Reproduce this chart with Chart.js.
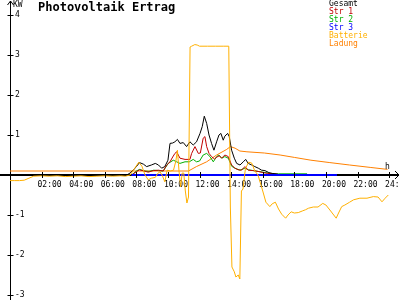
<!DOCTYPE html>
<html>
<head>
<meta charset="utf-8">
<title>Photovoltaik Ertrag</title>
<script src="https://cdn.jsdelivr.net/npm/chart.js@4"></script>
<style>
  html, body { margin: 0; padding: 0; background: #fff; }
</style>
</head>
<body>
<canvas id="myChart" width="400" height="300"></canvas>
<script>
// Werte: Zeit in Stunden, Leistung in kW
var gesamtStunden = [7.4, 7.6, 7.8, 8.0, 8.2, 8.45, 8.65, 8.95, 9.2, 9.4,
  9.6, 9.8, 10.0, 10.13, 10.3, 10.44, 10.6, 10.76, 10.97, 11.18,
  11.39, 11.6, 11.81, 12.03, 12.17, 12.3, 12.45, 12.6, 12.76, 12.91,
  13.08, 13.23, 13.35, 13.5, 13.6, 13.78, 13.88, 14.03, 14.2, 14.35,
  14.56, 14.77, 14.92, 15.08, 15.3, 15.5, 15.72, 15.93, 16.14, 16.39,
  16.6, 16.9, 17.2];
var gesamtKW = [0.0, 0.05, 0.12, 0.21, 0.31, 0.27, 0.21, 0.25, 0.29, 0.25,
  0.17, 0.21, 0.37, 0.79, 0.8, 0.83, 0.89, 0.79, 0.81, 0.71,
  0.83, 0.75, 0.83, 1.04, 1.21, 1.47, 1.29, 1.0, 0.79, 0.62,
  0.83, 1.0, 1.04, 0.87, 0.97, 1.04, 0.96, 0.62, 0.42, 0.29,
  0.25, 0.33, 0.39, 0.29, 0.25, 0.21, 0.17, 0.12, 0.11, 0.06,
  0.04, 0.02, 0.0];

var str1Stunden = [7.7, 8.0, 8.2, 8.5, 8.75, 9.07, 9.4, 9.7, 9.92, 10.13,
  10.3, 10.44, 10.55, 10.76, 11.08, 11.39, 11.5, 11.71, 11.92, 12.05,
  12.23, 12.34, 12.45, 12.6, 12.76, 12.95, 13.1, 13.25, 13.4, 13.6,
  13.82, 14.03, 14.24, 14.45, 14.66, 14.87, 15.08, 15.4, 15.7, 16.03,
  16.3, 16.6, 16.9, 17.1];
var str1KW = [0.0, 0.08, 0.13, 0.1, 0.07, 0.11, 0.12, 0.1, 0.25, 0.33,
  0.45, 0.54, 0.58, 0.42, 0.39, 0.39, 0.54, 0.71, 0.54, 0.55,
  0.92, 0.96, 0.71, 0.54, 0.46, 0.4, 0.45, 0.48, 0.42, 0.5,
  0.46, 0.25, 0.17, 0.13, 0.12, 0.21, 0.12, 0.11, 0.09, 0.06,
  0.04, 0.03, 0.02, 0.0];

var str2Stunden = [7.7, 8.0, 8.2, 8.5, 8.8, 9.1, 9.4, 9.7, 10.02, 10.34,
  10.55, 10.76, 11.08, 11.35, 11.6, 11.81, 12.0, 12.23, 12.45, 12.66,
  12.87, 13.08, 13.23, 13.4, 13.6, 13.82, 14.03, 14.24, 14.56, 14.87,
  15.1, 15.4, 15.7, 16.03, 16.46, 17.0, 18.0, 18.8, 18.85];
var str2KW = [0.0, 0.1, 0.14, 0.1, 0.09, 0.12, 0.11, 0.1, 0.29, 0.37,
  0.33, 0.29, 0.33, 0.33, 0.39, 0.33, 0.35, 0.5, 0.54, 0.46,
  0.33, 0.46, 0.5, 0.42, 0.46, 0.42, 0.22, 0.17, 0.12, 0.17,
  0.13, 0.11, 0.09, 0.07, 0.04, 0.03, 0.03, 0.03, 0.0];

var str3Stunden = [7.7, 20.7];
var str3KW = [0, 0];

var batterieStunden = [0, 0.3, 0.6, 0.9, 1.2, 1.5, 2.0, 2.5, 3.0, 3.5,
  4.0, 4.5, 5.0, 5.5, 6.0, 6.5, 7.0, 7.3, 7.6, 7.9,
  8.15, 8.35, 8.55, 8.75, 8.95, 9.2, 9.35, 9.5, 9.65, 9.8,
  9.95, 10.15, 10.35, 10.5, 10.6, 10.7, 10.8, 10.9, 11.0, 11.1,
  11.2, 11.3, 11.4, 11.5, 11.7, 11.85, 12.0, 12.5, 13.0, 13.5,
  13.85, 13.95, 14.05, 14.2, 14.3, 14.45, 14.55, 14.65, 14.75, 14.9,
  15.1, 15.3, 15.5, 15.7, 15.85, 16.0, 16.2, 16.45, 16.6, 16.8,
  17.0, 17.2, 17.45, 17.6, 17.8, 18.0, 18.25, 18.5, 18.7, 18.9,
  19.2, 19.5, 19.8, 20.0, 20.3, 20.65, 20.8, 21.0, 21.2, 21.5,
  21.75, 22.15, 22.6, 23.0, 23.3, 23.55, 23.75, 23.95];
var batterieKW = [-0.14, -0.14, -0.14, -0.13, -0.08, -0.03, -0.02, -0.03, -0.02, -0.04,
  -0.03, -0.02, -0.04, -0.03, -0.02, -0.03, -0.02, -0.03, 0.0, 0.17,
  0.32, 0.22, 0.0, -0.12, -0.08, -0.06, 0.04, 0.08, -0.02, -0.17,
  0.12, 0.1, 0.12, 0.35, 0.62, 0.1, -0.3, 0.05, 0.05, -0.4,
  -0.7, -0.55, 3.2, 3.22, 3.26, 3.25, 3.22, 3.22, 3.22, 3.22,
  3.22, -0.8, -2.3, -2.42, -2.55, -2.5, -2.6, -0.4, -0.35, 0.15,
  0.32, 0.3, 0.1, 0.0, -0.2, -0.4, -0.68, -0.79, -0.72, -0.68,
  -0.85, -0.98, -1.08, -1.0, -0.92, -0.95, -0.94, -0.9, -0.87, -0.83,
  -0.8, -0.8, -0.71, -0.75, -0.9, -1.08, -0.95, -0.79, -0.75, -0.68,
  -0.62, -0.58, -0.58, -0.54, -0.55, -0.67, -0.58, -0.5];

var ladungStunden = [0, 11.3, 11.8, 12.45, 13.08, 13.72, 13.95, 14.25, 14.55, 15.0,
  16.1, 17.1, 18.0, 19.05, 20.25, 21.5, 22.8, 23.9];
var ladungKW = [0.1, 0.1, 0.21, 0.33, 0.5, 0.64, 0.71, 0.67, 0.6, 0.58,
  0.55, 0.5, 0.44, 0.37, 0.31, 0.25, 0.19, 0.14];

var xTicks = [2, 4, 6, 8, 10, 12, 14, 16, 18, 20, 22, 24];
var yTicks = [-3, -2, -1, 1, 2, 3, 4];

var MONO = '"DejaVu Sans Mono", monospace';

function toPoints(hours, values) {
  return hours.map(function(h, i) {
    return { x: h, y: values[i] };
  });
}

function pad2(n) {
  return (n < 10 ? '0' : '') + n;
}

// Pfeile, Achsen-Einheiten und Tick-Kreuze wie im Original
var achsenDeko = {
  id: 'achsenDeko',
  afterLayout: function(chart) {
    chart.titleBlock.left = 38;
    var lg = chart.legend;
    lg.left = 325;
    lg.top = 0;
    lg.right = 400;
    lg.bottom = 60;
  },
  afterDraw: function(chart) {
    var ctx = chart.ctx;
    var xs = chart.scales.x;
    var ys = chart.scales.y;
    var area = chart.chartArea;
    var ax = Math.round(area.left) + 0.5;
    var ay = ys.getPixelForValue(0);

    ctx.save();
    ctx.strokeStyle = '#000';
    ctx.lineWidth = 1;
    ctx.beginPath();
    ctx.moveTo(ax, area.top);
    ctx.lineTo(ax, 1);
    ctx.moveTo(ax - 3, 5);
    ctx.lineTo(ax, 1);
    ctx.lineTo(ax + 3, 5);
    yTicks.forEach(function(v) {
      var py = Math.round(ys.getPixelForValue(v)) + 0.5;
      ctx.moveTo(ax - 3, py);
      ctx.lineTo(ax + 3, py);
    });
    xTicks.forEach(function(v) {
      var px = Math.round(xs.getPixelForValue(v)) + 0.5;
      ctx.moveTo(px, ay - 3);
      ctx.lineTo(px, ay + 3);
    });
    ctx.moveTo(395, ay - 4);
    ctx.lineTo(399, ay);
    ctx.lineTo(395, ay + 4);
    ctx.stroke();

    ctx.lineWidth = 2;
    ctx.beginPath();
    ctx.moveTo(0, ay);
    ctx.lineTo(area.left, ay);
    ctx.moveTo(area.right, ay);
    ctx.lineTo(399, ay);
    ctx.stroke();

    ctx.fillStyle = '#000';
    ctx.font = '8px ' + MONO;
    ctx.textBaseline = 'middle';
    ctx.textAlign = 'left';
    ctx.fillText('KW', 13, 5);
    ctx.fillText('h', 385, 167);
    ctx.restore();
  }
};

Chart.defaults.font.family = MONO;
Chart.defaults.font.size = 8;
Chart.defaults.color = '#000';

function createChart() {
  var ctx = document.getElementById('myChart').getContext('2d');
  var chart = new Chart(ctx, {
    type: 'line',
    data: {
      datasets: [
        { label: 'Gesamt', data: toPoints(gesamtStunden, gesamtKW), borderColor: '#000000', order: 2 },
        { label: 'Str 1', data: toPoints(str1Stunden, str1KW), borderColor: '#C00000', order: 3 },
        { label: 'Str 2', data: toPoints(str2Stunden, str2KW), borderColor: '#00B000', order: 4 },
        { label: 'Str 3', data: toPoints(str3Stunden, str3KW), borderColor: '#0000FF', borderWidth: 2, order: 1 },
        { label: 'Batterie', data: toPoints(batterieStunden, batterieKW), borderColor: '#FFB000', order: 0 },
        { label: 'Ladung', data: toPoints(ladungStunden, ladungKW), borderColor: '#FF8000', order: 5 }
      ]
    },
    options: {
      responsive: false,
      animation: false,
      events: [],
      layout: { padding: { left: 0, right: 3, top: 0, bottom: 0 } },
      elements: {
        line: { borderWidth: 1, tension: 0, fill: false },
        point: { radius: 0 }
      },
      scales: {
        x: {
          type: 'linear',
          min: 0,
          max: 24.5,
          position: { y: 0 },
          afterBuildTicks: function(scale) {
            scale.ticks = xTicks.map(function(v) { return { value: v }; });
          },
          afterFit: function(scale) {
            scale.paddingLeft = 0;
            scale.paddingRight = 0;
            scale.paddingTop = 0;
            scale.paddingBottom = 0;
          },
          grid: { display: true, drawOnChartArea: false, drawTicks: false },
          border: { display: true, color: '#000', width: 2 },
          ticks: {
            padding: 5,
            labelOffset: 8,
            maxRotation: 0,
            autoSkip: false,
            callback: function(value) { return pad2(value) + ':00'; }
          }
        },
        y: {
          type: 'linear',
          min: -3.125,
          max: 4,
          position: 'left',
          afterBuildTicks: function(scale) {
            scale.ticks = yTicks.map(function(v) { return { value: v }; });
          },
          afterFit: function(scale) {
            scale.width = 10;
            scale.paddingTop = 0;
            scale.paddingBottom = 0;
          },
          grid: { display: true, drawOnChartArea: false, drawTicks: false },
          border: { display: true, color: '#000', width: 1 },
          ticks: {
            mirror: true,
            padding: 5,
            callback: function(value) { return String(value); }
          }
        }
      },
      plugins: {
        tooltip: { enabled: false },
        title: {
          display: true,
          text: 'Photovoltaik Ertrag',
          align: 'start',
          color: '#000',
          padding: { top: 0, bottom: 0 },
          font: { family: MONO, size: 12, weight: 'bold', lineHeight: 1.25 }
        },
        legend: {
          position: 'chartArea',
          align: 'start',
          labels: {
            boxWidth: 0,
            boxHeight: 0,
            padding: 0,
            font: { family: MONO, size: 8 },
            generateLabels: function(chart) {
              return chart.data.datasets.map(function(ds, i) {
                return {
                  text: ds.label,
                  fontColor: ds.borderColor,
                  fillStyle: 'rgba(0,0,0,0)',
                  strokeStyle: 'rgba(0,0,0,0)',
                  lineWidth: 0,
                  hidden: false,
                  datasetIndex: i
                };
              });
            }
          }
        }
      }
    },
    plugins: [achsenDeko]
  });
  return chart;
}

createChart();
</script>
</body>
</html>
